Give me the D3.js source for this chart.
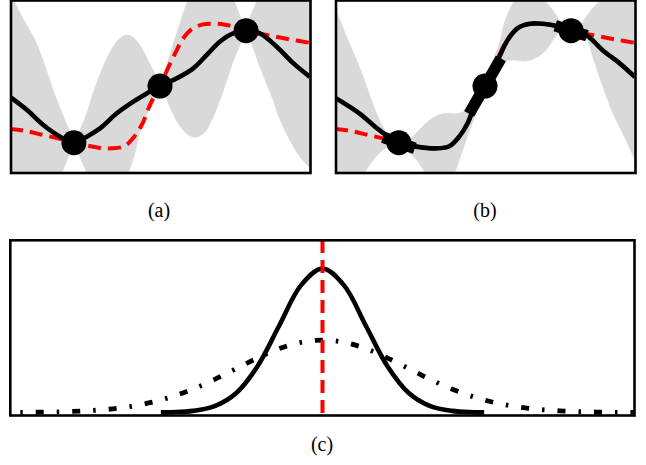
<!DOCTYPE html>
<html><head><meta charset="utf-8">
<script src="https://cdn.jsdelivr.net/npm/d3@7"></script>
<style>body{margin:0;background:#fff}svg{display:block}</style>
</head><body>
<svg id="chart" width="646" height="465"></svg>
<script>
// ---------- data ----------
const obsX = [2.13, 5.0, 7.87];
const obsY = [-1.30, 0.01, 1.29];
const derivB = [-0.24, 1.21, -0.22];

const truthF = [[0,-0.98],[0.53,-1.03],[1.1,-1.12],[1.67,-1.21],[2.13,-1.29],[2.67,-1.38],[3,-1.42],[3.37,-1.43],[3.81,-1.38],[4.14,-1.16],[4.42,-0.85],[4.64,-0.47],[4.83,-0.2],[5,0.01],[5.23,0.37],[5.5,0.76],[5.76,1.1],[6.05,1.32],[6.4,1.43],[6.85,1.45],[7.17,1.43],[7.5,1.38],[7.87,1.29],[8.57,1.19],[9.33,1.09],[10,1.01]];

const meanA = [[0,-0.24],[0.56,-0.54],[1.11,-0.89],[1.67,-1.16],[2.13,-1.30],[2.56,-1.16],[3,-0.97],[3.56,-0.62],[4.11,-0.35],[4.56,-0.16],[5,0.01],[5.56,0.19],[6.11,0.42],[6.56,0.73],[7,1.04],[7.44,1.23],[7.87,1.29],[8.33,1.23],[8.89,0.92],[9.44,0.54],[10,0.22]];
const upperA = [[0,2.25],[0.17,1.93],[0.5,1.49],[0.83,1.08],[1.17,0.47],[1.5,-0.2],[1.83,-0.77],[2.13,-1.30],
  [2.5,-0.73],[2.83,-0.03],[3.17,0.57],[3.43,0.91],[3.67,1.12],[3.87,1.19],[4.1,1.14],[4.33,0.96],[4.6,0.61],[4.83,0.29],[5,0.01],
  [5.23,0.5],[5.43,0.96],[5.67,1.47],[5.9,1.93],[6.33,2.39],[6.67,2.42],[7,2.23],[7.43,2.0],[7.67,1.63],[7.87,1.29],
  [8,1.61],[8.17,1.88],[8.33,2.18],[9,2.93],[10,3.39]];
const lowerA = [[0,-3.55],[1,-2.97],[1.5,-2.39],[1.73,-2.0],[1.93,-1.65],[2.13,-1.30],
  [2.33,-1.63],[2.57,-2.0],[2.83,-2.28],[3.17,-2.39],[3.57,-2.39],[3.9,-2.05],[4.1,-1.70],[4.33,-1.07],[4.57,-0.64],[4.77,-0.31],[5,0.01],
  [5.23,-0.31],[5.5,-0.73],[5.77,-1.01],[6,-1.14],[6.23,-1.17],[6.5,-1.05],[6.73,-0.77],[7,-0.31],[7.23,0.15],[7.43,0.57],[7.67,0.96],[7.87,1.29],
  [8.07,0.96],[8.33,0.45],[8.57,0.03],[8.77,-0.31],[9,-0.77],[9.33,-1.24],[9.67,-1.63],[10,-1.88]];

const meanB = [[0,-0.26],[0.81,-0.62],[1.48,-1.01],[2.13,-1.30],[2.7,-1.39],[3.37,-1.43],[3.81,-1.38],[4.14,-1.16],[4.42,-0.85],[4.64,-0.47],[4.83,-0.24],[5,0.01],[5.26,0.34],[5.48,0.69],[5.76,1.08],[6.09,1.35],[6.48,1.45],[6.92,1.45],[7.48,1.38],[7.87,1.29],[8.37,1.19],[8.92,0.84],[9.48,0.54],[10,0.22]];
const upperB = [[0,1.82],[0.48,1.0],[0.81,0.46],[1.14,-0.16],[1.48,-0.77],[1.81,-1.16],[2.13,-1.30],
  [2.4,-1.26],[2.7,-1.08],[3.03,-0.85],[3.37,-0.68],[3.7,-0.62],[4.14,-0.62],[4.4,-0.52],[4.63,-0.40],[4.83,-0.2],[5,0.01],
  [5.13,0.34],[5.3,0.66],[5.48,1.0],[5.64,1.46],[5.87,1.85],[6.1,2.12],[6.5,2.35],[6.83,2.18],[6.98,2.0],[7.26,1.77],[7.48,1.54],[7.64,1.42],[7.87,1.29],
  [8.13,1.38],[8.37,1.61],[8.6,1.82],[8.83,1.98],[9.17,2.23],[10,2.69]];
const lowerB = [[0,-3.32],[0.5,-2.62],[0.98,-2.0],[1.37,-1.62],[1.76,-1.39],[2.13,-1.30],
  [2.33,-1.47],[2.64,-1.63],[3.03,-2.0],[3.37,-2.28],[3.7,-2.23],[3.98,-2.0],[4.2,-1.58],[4.37,-1.24],[4.59,-0.82],[4.8,-0.38],[5,0.01],
  [5.17,0.15],[5.4,0.38],[5.6,0.57],[5.9,0.61],[6.37,0.59],[6.7,0.66],[7.03,0.84],[7.27,1.08],[7.47,1.23],[7.67,1.28],[7.87,1.29],
  [8.17,1.24],[8.37,1.14],[8.57,0.73],[8.81,0.23],[9.03,-0.2],[9.26,-0.62],[9.5,-0.96],[9.7,-1.24],[10,-1.70]];

// panel (c)
const priorX = [-7.5,-7,-6.5,-6,-5.5,-5,-4.5,-4,-3.5,-3,-2.5,-2,-1.5,-1,-0.5,0,0.5,1,1.5,2,2.5,3,3.5,4,4.5,5,5.5,6,6.5,7,7.5];
const priorY = [0.0004,0.0009,0.0021,0.0047,0.0096,0.018,0.033,0.057,0.091,0.136,0.192,0.255,0.317,0.371,0.407,0.420,0.407,0.371,0.317,0.255,0.192,0.136,0.091,0.057,0.033,0.018,0.0096,0.0047,0.0021,0.0009,0.0004];
const postX = [-3.75,-3.5,-3,-2.5,-2,-1.5,-1,-0.5,0,0.5,1,1.5,2,2.5,3,3.5,3.75];
const postY = [0.0007,0.0018,0.0093,0.037,0.113,0.271,0.506,0.737,0.835,0.737,0.506,0.271,0.113,0.037,0.0093,0.0018,0.0007];
const trueC = 0;
const panelLabels = ["(a)", "(b)", "(c)"];

// ---------- drawing ----------
const svg = d3.select("#chart");
svg.append("rect").attr("width",646).attr("height",465).attr("fill","#fff");
const defs = svg.append("defs");

const GRAY = "#d9d9d9", RED = "#ff0000";

function panelGP(id, x0, x1, mean, upper, lower, deriv) {
  const x = d3.scaleLinear().domain([0,10]).range([x0, x1]);
  const y = d3.scaleLinear().domain([-2,2]).range([173, 0]);
  defs.append("clipPath").attr("id","clip"+id).append("rect")
    .attr("x", x0+1).attr("y", 0).attr("width", x1-x0-1.5).attr("height", 172);
  const g = svg.append("g").attr("clip-path", `url(#clip${id})`);
  const line = d3.line().x(d=>x(d[0])).y(d=>y(d[1])).curve(d3.curveCatmullRom.alpha(0.5));
  const cuts = [0, ...obsX, 10];
  for (let i = 0; i < cuts.length-1; i++) {
    const a = cuts[i], b = cuts[i+1];
    const up = upper.filter(d => d[0] >= a - 1e-9 && d[0] <= b + 1e-9);
    const lo = lower.filter(d => d[0] >= a - 1e-9 && d[0] <= b + 1e-9).reverse();
    const p = line(up) + "L" + line(lo).slice(1) + "Z";
    g.append("path").attr("d", p).attr("fill", GRAY).attr("stroke", GRAY).attr("stroke-width", 0.5);
  }
  g.append("path").attr("d", line(truthF)).attr("fill","none")
    .attr("stroke", RED).attr("stroke-width", 4).attr("stroke-dasharray","13,7");
  g.append("path").attr("d", line(mean)).attr("fill","none")
    .attr("stroke","#000").attr("stroke-width", 4.6);
  if (deriv) {
    obsX.forEach((ox, i) => {
      const h = 0.53;
      g.append("line")
        .attr("x1", x(ox-h)).attr("y1", y(obsY[i]-h*deriv[i]))
        .attr("x2", x(ox+h)).attr("y2", y(obsY[i]+h*deriv[i]))
        .attr("stroke","#000").attr("stroke-width", 11.5);
    });
  }
  g.selectAll("circle.obs").data(obsX).join("circle")
    .attr("cx", d=>x(d)).attr("cy", (d,i)=>y(obsY[i])).attr("r", 12.5).attr("fill","#000");
  svg.append("rect").attr("x", x0+1).attr("y", 0.5).attr("width", x1-x0-0.5).attr("height", 172.5)
    .attr("fill","none").attr("stroke","#000").attr("stroke-width", 2.6);
}
panelGP("a", 10, 310, meanA, upperA, lowerA, null);
panelGP("b", 335, 635, meanB, upperB, lowerB, derivB);

// panel (c)
{
  const x = d3.scaleLinear().domain([-7.25, 7.25]).range([10, 635]);
  const y = d3.scaleLinear().domain([0, 1]).range([412.5, 240]);
  defs.append("clipPath").attr("id","clipc").append("rect")
    .attr("x", 11).attr("y", 241).attr("width", 623).attr("height", 175);
  const g = svg.append("g").attr("clip-path","url(#clipc)");
  const line = d3.line().x(d=>x(d[0])).y(d=>y(d[1])).curve(d3.curveCatmullRom.alpha(0.5));
  g.append("path").attr("d", line(priorX.map((v,i)=>[v, priorY[i]]))).attr("fill","none")
    .attr("stroke","#000").attr("stroke-width",4.8).attr("stroke-dasharray","8,13,2.5,13");
  g.append("path").attr("d", line(postX.map((v,i)=>[v, postY[i]]))).attr("fill","none")
    .attr("stroke","#000").attr("stroke-width",4.6);
  g.append("line").attr("x1", x(trueC)).attr("x2", x(trueC)).attr("y1", 240).attr("y2", 416)
    .attr("stroke", RED).attr("stroke-width", 4).attr("stroke-dasharray","13,7");
  svg.append("rect").attr("x",10.3).attr("y",240.3).attr("width",624.2).attr("height",175.2)
    .attr("fill","none").attr("stroke","#000").attr("stroke-width",2.6);
}

// labels
const labelPos = [[159, 217], [485, 217], [322, 451]];
svg.selectAll("text.lab").data(panelLabels).join("text")
  .attr("x", (d,i)=>labelPos[i][0]).attr("y", (d,i)=>labelPos[i][1])
  .attr("text-anchor","middle").attr("font-family","'Liberation Serif', serif")
  .attr("font-size", 20).attr("fill","#000").text(d=>d);
</script>
</body></html>
